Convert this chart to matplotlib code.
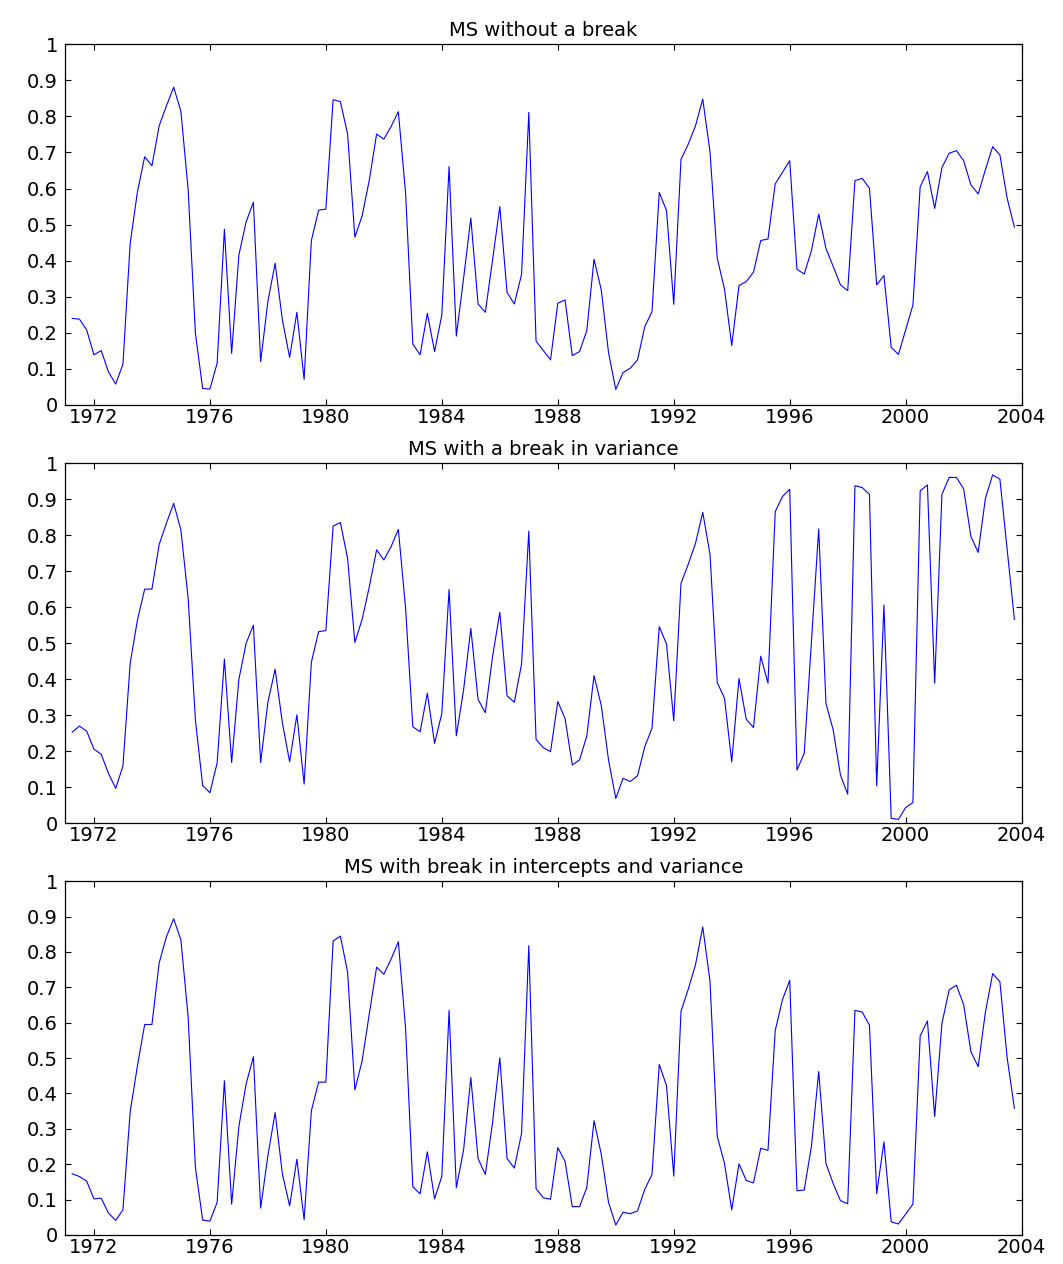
import numpy as np
import matplotlib
matplotlib.use("Agg")
import matplotlib.pyplot as plt

# Quarterly dates 1971Q2 .. 2003Q4
start_year = 1971.25

titles = ["MS without a break",
          "MS with a break in variance",
          "MS with break in intercepts and variance"]

prob_no_break = [
    0.240, 0.238, 0.208, 0.139, 0.151, 0.092, 0.058, 0.113, 0.448, 0.591,
    0.688, 0.663, 0.774, 0.829, 0.881, 0.814, 0.596, 0.199, 0.046, 0.044,
    0.116, 0.487, 0.143, 0.416, 0.508, 0.562, 0.120, 0.287, 0.393, 0.236,
    0.132, 0.257, 0.071, 0.456, 0.540, 0.543, 0.846, 0.841, 0.751,
    0.465, 0.524, 0.624, 0.751, 0.737, 0.772, 0.813, 0.587, 0.169, 0.139,
    0.254, 0.148, 0.250, 0.661, 0.191, 0.351, 0.518, 0.280, 0.257, 0.402,
    0.550, 0.312, 0.280, 0.362, 0.811, 0.177, 0.151, 0.125, 0.282, 0.291,
    0.137, 0.148, 0.206, 0.404, 0.319, 0.145, 0.043, 0.090, 0.102, 0.125,
    0.217, 0.259, 0.589, 0.539, 0.279, 0.681, 0.723, 0.774,
    0.848, 0.702, 0.407, 0.321, 0.165, 0.331, 0.342, 0.368, 0.456, 0.460,
    0.613, 0.645, 0.677, 0.376, 0.363, 0.428, 0.529, 0.434, 0.384, 0.333,
    0.317, 0.622, 0.628, 0.601, 0.333, 0.359, 0.160, 0.140, 0.208, 0.277,
    0.605, 0.647, 0.545, 0.658, 0.698, 0.705, 0.677, 0.610, 0.585, 0.652,
    0.716, 0.693, 0.573, 0.493,
]

prob_break_var = [
    0.253, 0.270, 0.256, 0.206, 0.192, 0.139, 0.097, 0.159, 0.444, 0.564,
    0.650, 0.650, 0.774, 0.833, 0.888, 0.814, 0.624, 0.287, 0.105, 0.085,
    0.168, 0.456, 0.169, 0.400, 0.500, 0.550, 0.169, 0.336, 0.428, 0.279,
    0.171, 0.301, 0.109, 0.447, 0.532, 0.535, 0.825, 0.835, 0.735,
    0.502, 0.566, 0.657, 0.759, 0.731, 0.768, 0.816, 0.597, 0.268, 0.254,
    0.361, 0.222, 0.305, 0.649, 0.243, 0.370, 0.541, 0.344, 0.307, 0.463,
    0.586, 0.354, 0.336, 0.442, 0.811, 0.233, 0.210, 0.199, 0.338, 0.291,
    0.162, 0.176, 0.242, 0.410, 0.327, 0.176, 0.069, 0.125, 0.116, 0.132,
    0.213, 0.264, 0.546, 0.498, 0.285, 0.666, 0.719, 0.777,
    0.863, 0.747, 0.391, 0.347, 0.171, 0.402, 0.289, 0.266, 0.464, 0.389,
    0.865, 0.907, 0.927, 0.148, 0.194, 0.505, 0.817, 0.333, 0.259, 0.134,
    0.081, 0.937, 0.932, 0.913, 0.104, 0.606, 0.014, 0.011, 0.044, 0.058,
    0.923, 0.939, 0.389, 0.913, 0.960, 0.960, 0.928, 0.796, 0.752, 0.902,
    0.967, 0.955, 0.760, 0.566,
]

prob_break_int_var = [
    0.173, 0.165, 0.152, 0.102, 0.104, 0.062, 0.041, 0.071, 0.348, 0.478,
    0.595, 0.595, 0.769, 0.843, 0.894, 0.834, 0.616, 0.191, 0.042, 0.039,
    0.092, 0.436, 0.087, 0.307, 0.427, 0.504, 0.076, 0.224, 0.346, 0.173,
    0.082, 0.214, 0.043, 0.351, 0.432, 0.432, 0.831, 0.845, 0.743,
    0.410, 0.492, 0.626, 0.757, 0.737, 0.780, 0.829, 0.584, 0.136, 0.116,
    0.235, 0.102, 0.166, 0.635, 0.133, 0.240, 0.445, 0.216, 0.171, 0.318,
    0.501, 0.216, 0.189, 0.287, 0.818, 0.131, 0.105, 0.101, 0.247, 0.208,
    0.080, 0.080, 0.134, 0.323, 0.228, 0.092, 0.028, 0.064, 0.060, 0.068,
    0.129, 0.171, 0.482, 0.422, 0.166, 0.632, 0.695, 0.764,
    0.871, 0.718, 0.279, 0.202, 0.071, 0.201, 0.154, 0.147, 0.245, 0.239,
    0.578, 0.665, 0.720, 0.125, 0.127, 0.251, 0.462, 0.202, 0.145, 0.097,
    0.088, 0.635, 0.630, 0.593, 0.117, 0.263, 0.037, 0.031, 0.059, 0.087,
    0.563, 0.605, 0.335, 0.598, 0.693, 0.706, 0.651, 0.518, 0.476, 0.630,
    0.739, 0.716, 0.501, 0.358,
]

x_ticks = [1972, 1976, 1980, 1984, 1988, 1992, 1996, 2000, 2004]
y_ticks = [0, 0.1, 0.2, 0.3, 0.4, 0.5, 0.6, 0.7, 0.8, 0.9, 1]
y_tick_labels = ["0", "0.1", "0.2", "0.3", "0.4", "0.5", "0.6", "0.7", "0.8", "0.9", "1"]

series = [prob_no_break, prob_break_var, prob_break_int_var]

plt.rcParams['font.family'] = ['DejaVu Sans']

fig = plt.figure(figsize=(10.63, 12.64), dpi=100)
left, width = 0.0611, 0.900
boxes = [(0.6796, 0.2854), (0.3486, 0.2851), (0.0230, 0.2798)]

for title, vals, (b, h) in zip(titles, series, boxes):
    ax = fig.add_axes([left, b, width, h])
    vals = np.asarray(vals)
    dates = start_year + np.arange(len(vals)) / 4.0
    ax.plot(dates, vals, color=(0, 0, 1), linewidth=0.8)
    ax.set_xlim(1971, 2004)
    ax.set_ylim(0, 1)
    ax.set_xticks(x_ticks)
    ax.set_xticklabels([str(t) for t in x_ticks])
    ax.set_yticks(y_ticks)
    ax.set_yticklabels(y_tick_labels)
    ax.tick_params(direction='in', top=True, right=True, length=4,
                   width=0.8, labelsize=14)
    ax.tick_params(axis='y', pad=5)
    ax.tick_params(axis='x', pad=2)
    for s in ax.spines.values():
        s.set_linewidth(0.9)
    ax.set_title(title, fontsize=14, pad=6)

fig.savefig("out.png", dpi=100)
